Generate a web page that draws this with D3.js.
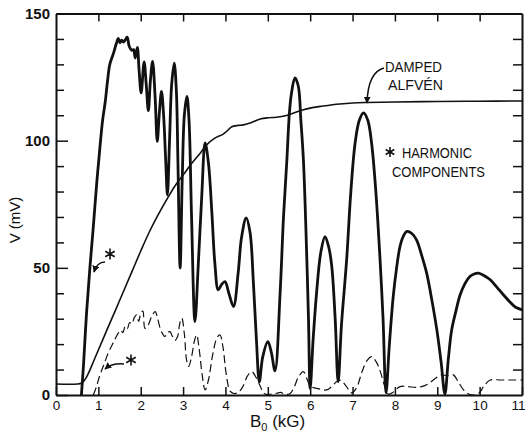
<!DOCTYPE html>
<html>
<head>
<meta charset="utf-8">
<script src="https://cdn.jsdelivr.net/npm/d3@7"></script>
<style>
  body { margin: 0; background: #fff; }
  text { font-family: "Liberation Sans", Arial, sans-serif; fill: #111; }
</style>
</head>
<body>
<svg id="chart" width="526" height="440"></svg>
<script>
// tick values
const xTicks = [0, 1, 2, 3, 4, 5, 6, 7, 8, 9, 10, 11]
const yLabels = [0, 50, 100, 150]
const yMinor = [10, 20, 30, 40, 60, 70, 80, 90, 110, 120, 130, 140]

// measured signal V (mV) vs B0 (kG), thick curve
const signalB = [0.60, 0.65, 0.72, 0.80, 0.88, 0.96, 1.04, 1.10, 1.16, 1.22, 1.27, 1.35, 1.43, 1.47, 1.51, 1.55, 1.59, 1.63, 1.68, 1.73, 1.79, 1.83, 1.87, 1.92, 1.96,
  2.01, 2.08, 2.13, 2.18, 2.23, 2.28, 2.34, 2.39, 2.44, 2.49, 2.54, 2.59, 2.63, 2.68, 2.73, 2.79, 2.84, 2.88, 2.93, 2.98,
  3.03, 3.09, 3.14, 3.20, 3.28, 3.36, 3.44, 3.52, 3.60, 3.68, 3.75, 3.83, 3.91, 3.99, 4.08, 4.19, 4.30, 4.38, 4.49, 4.58,
  4.66, 4.73, 4.80, 4.88, 5.00, 5.08, 5.17, 5.29, 5.37, 5.45, 5.51, 5.56, 5.64, 5.72, 5.78, 5.84, 5.90, 5.96, 6.00, 6.07,
  6.15, 6.25, 6.35, 6.44, 6.51, 6.59, 6.66, 6.74, 6.86, 6.96, 7.06, 7.16, 7.26, 7.36, 7.45, 7.55, 7.65, 7.72, 7.79, 7.87,
  7.96, 8.04, 8.12, 8.20, 8.28, 8.40, 8.51, 8.63, 8.75, 8.87, 8.99, 9.09, 9.18, 9.26, 9.34, 9.44, 9.54, 9.66, 9.77, 9.87,
  9.97, 10.10, 10.25, 10.40, 10.56, 10.72, 10.85, 11.00]
const signalV = [0, 12, 32, 50, 66, 83, 98, 108, 115, 124, 130, 134, 138.5, 140.2, 138.5, 139.5, 138.8, 139.5, 140.7, 137, 135.5, 135.8, 132.5, 136.7, 128,
  118.8, 131, 122, 111.8, 124, 131.2, 117, 99.7, 111, 119.4, 110, 92, 78.7, 100, 122, 130.5, 120, 90, 49.9, 85,
  110, 117.4, 108, 70, 28.9, 51.8, 78, 99.1, 91, 71.5, 51.8, 41.3, 43.5, 44.6, 40, 34.8, 48, 62, 69.6, 64,
  44, 22, 5.2, 15, 21, 17, 9.5, 40, 70, 92.5, 111, 118.8, 124.7, 121.4, 108, 92.5, 65, 30, 2.6, 22,
  40, 56, 62.3, 58, 50.5, 30, 5.2, 28, 53, 80, 99, 108, 110.9, 108, 99, 80, 53, 30, 0.8, 20,
  38.7, 50, 58.4, 62.5, 64.3, 63.5, 61, 55, 47.9, 37.5, 25.6, 13, 0.4, 14, 25.6, 33, 39.4, 44, 46.6, 47.6,
  47.9, 47, 45.3, 42.5, 39.4, 36.5, 34.5, 33.5]

// damped Alfven curve
const alfvenB = [0, 0.5, 0.6, 0.66, 0.72, 0.8, 0.87, 1.0, 1.2, 1.4, 1.6, 1.8, 2.0, 2.2, 2.4, 2.62, 2.8, 3.0, 3.2, 3.4, 3.56, 3.75, 3.94, 4.05, 4.15,
  4.3, 4.42, 4.6, 4.82, 5.0, 5.2, 5.36, 5.55, 5.8, 6.05, 6.3, 6.7, 7.0, 7.34, 8, 9, 10, 11]
const alfvenV = [4.3, 4.3, 4.6, 5.5, 7, 9.8, 12.6, 17.7, 25.5, 33.2, 41, 48.8, 56.6, 64, 70.5, 77, 82, 86.5, 91, 95, 98.4, 101, 102.5, 104, 105.5,
  106, 106.2, 107, 108.5, 109, 109.2, 109.6, 110.5, 112, 113, 113.6, 114.4, 114.8, 115, 115.2, 115.4, 115.5, 115.6]

// harmonic components, dashed
const harmonicB = [0.88, 0.95, 1.03, 1.12, 1.23, 1.35, 1.47, 1.53, 1.58, 1.63, 1.68, 1.74, 1.79, 1.85, 1.90, 1.95, 2.00, 2.05, 2.10, 2.18, 2.26, 2.34, 2.40, 2.46, 2.52,
  2.57, 2.63, 2.69, 2.75, 2.81, 2.87, 2.92, 2.97, 3.03, 3.08, 3.13, 3.20, 3.27, 3.32, 3.38, 3.45, 3.52, 3.60, 3.70, 3.80,
  3.87, 3.94, 4.02, 4.11, 4.20, 4.30, 4.40, 4.52, 4.62, 4.72, 4.82, 4.92, 5.05, 5.21, 5.30, 5.40, 5.52, 5.62, 5.72, 5.84,
  5.92, 6.00, 6.10, 6.25, 6.39, 6.52, 6.62, 6.72, 6.85, 6.98, 7.10, 7.22, 7.34, 7.45, 7.56, 7.66, 7.75, 7.85, 7.95, 8.12,
  8.30, 8.50, 8.63, 8.80, 8.95, 9.10, 9.22, 9.38, 9.50, 9.62, 9.75, 9.88, 10.00, 10.10, 10.25, 10.50, 10.75, 11.00]
const harmonicV = [0, 3, 7.5, 11.5, 16.4, 20.5, 24.3, 25.5, 24.5, 26.9, 26, 28.5, 28, 30.5, 31.5, 29, 32, 33, 26.2, 27.6, 31, 32.8, 30, 26.2, 24,
  23, 24.5, 24.9, 23, 21.5, 23, 28, 30.2, 24, 14, 11.2, 15, 21.5, 23.6, 18, 8, 2, 6, 16, 22.5,
  23.6, 19, 8, 1.5, 0.6, 1, 3, 7.5, 9.2, 7, 3.5, 0.5, 0.3, 0.7, 1.0, 0.3, 0.5, 3, 7, 9.2,
  6.5, 3.5, 2.8, 2.3, 2, 3.5, 5.2, 5.8, 3.5, 0.8, 3, 9, 13.5, 15.1, 13, 9, 4, 0.3, 1, 3.3,
  3.3, 3, 3.3, 4.5, 6.5, 7.9, 7.6, 7.9, 5, 2, 0.3, 0, 1, 3.5, 5.9, 5.9, 5.9, 5.9]

const svg = d3.select("#chart")
const plotLeft = 56, plotRight = 522, plotTop = 13.5, plotBottom = 395

const x = d3.scaleLinear().domain([0, 11]).range([plotLeft, plotRight])
const y = d3.scaleLinear().domain([0, 150]).range([plotBottom, plotTop])

const defs = svg.append("defs")
defs.append("clipPath").attr("id", "plotClip")
  .append("rect").attr("x", plotLeft).attr("y", plotTop)
  .attr("width", plotRight - plotLeft).attr("height", plotBottom - plotTop)

defs.append("marker")
  .attr("id", "arrowHead")
  .attr("viewBox", "0 0 10 10")
  .attr("refX", 9).attr("refY", 5)
  .attr("markerWidth", 7).attr("markerHeight", 7)
  .attr("markerUnits", "userSpaceOnUse")
  .attr("orient", "auto")
  .append("path").attr("d", "M0,0 L10,5 L0,10 z").attr("fill", "#111")

// axes
const axisStyle = g => {
  g.select(".domain").attr("stroke", "#111").attr("stroke-width", 2)
  g.selectAll(".tick line").attr("stroke", "#111").attr("stroke-width", 1.5)
  g.selectAll(".tick text").style("font-size", "14px").attr("fill", "#111")
}

svg.append("g").attr("transform", "translate(0," + plotBottom + ")")
  .call(d3.axisBottom(x).tickValues(xTicks).tickSizeInner(-8).tickSizeOuter(0).tickPadding(5).tickFormat(d3.format("d")))
  .call(axisStyle)
  .call(g => g.selectAll(".tick text").style("font-size", "13.5px")
    .attr("dx", d => d == 11 ? -4 : 0))

svg.append("g").attr("transform", "translate(0," + plotTop + ")")
  .call(d3.axisTop(x).tickValues(xTicks.slice(1, -1)).tickSizeInner(-8).tickSizeOuter(0).tickFormat(""))
  .call(axisStyle)

svg.append("g").attr("transform", "translate(" + plotLeft + ",0)")
  .call(d3.axisLeft(y).tickValues(yLabels).tickSizeInner(-12).tickSizeOuter(0).tickPadding(6).tickFormat(d3.format("d")))
  .call(axisStyle)
  .call(g => g.selectAll(".tick text").style("font-size", "15px").style("font-weight", "bold"))

svg.append("g").attr("transform", "translate(" + plotLeft + ",0)")
  .call(d3.axisLeft(y).tickValues(yMinor).tickSizeInner(-8).tickSizeOuter(0).tickFormat(""))
  .call(axisStyle)
  .call(g => g.select(".domain").remove())

svg.append("g").attr("transform", "translate(" + plotRight + ",0)")
  .call(d3.axisRight(y).tickValues(yMinor.concat([50, 100])).tickSizeInner(-9).tickSizeOuter(0).tickFormat(""))
  .call(axisStyle)

// curves
const line = d3.line()
  .x(d => x(d[0]))
  .y(d => y(d[1]))
  .curve(d3.curveCatmullRom.alpha(0.5))

const plot = svg.append("g").attr("clip-path", "url(#plotClip)")

plot.append("path")
  .datum(d3.zip(alfvenB, alfvenV))
  .attr("d", line)
  .attr("fill", "none").attr("stroke", "#111").attr("stroke-width", 1.6)

plot.append("path")
  .datum(d3.zip(harmonicB, harmonicV))
  .attr("d", line)
  .attr("fill", "none").attr("stroke", "#111").attr("stroke-width", 1.2)
  .attr("stroke-dasharray", "8,4")

plot.append("path")
  .datum(d3.zip(signalB, signalV))
  .attr("d", line)
  .attr("fill", "none").attr("stroke", "#111").attr("stroke-width", 2.8)
  .attr("stroke-linejoin", "round")

// asterisk symbol
function asterisk(cx, cy, r) {
  let p = d3.path()
  for (let a of [90, 30, 150]) {
    let t = a * Math.PI / 180
    p.moveTo(cx - r * Math.cos(t), cy - r * Math.sin(t))
    p.lineTo(cx + r * Math.cos(t), cy + r * Math.sin(t))
  }
  svg.append("path").attr("d", p.toString())
    .attr("stroke", "#111").attr("stroke-width", 1.6).attr("fill", "none")
}

asterisk(110, 254, 5.5)
asterisk(131, 360, 5.5)
asterisk(390, 152, 5)

// arrows
const arrows = [
  "M105,262 Q97,262 94,272",
  "M124,364 Q112,363 105,369",
  "M384,68 Q368,72 367,103"
]
svg.selectAll(".arrow").data(arrows).enter().append("path")
  .attr("class", "arrow")
  .attr("d", d => d)
  .attr("fill", "none").attr("stroke", "#111").attr("stroke-width", 1.5)
  .attr("marker-end", "url(#arrowHead)")

// annotations
const notes = [
  {t: "DAMPED", x: 385, y: 72, w: 57},
  {t: "ALFVÉN", x: 388, y: 90, w: 55},
  {t: "HARMONIC", x: 402, y: 158, w: 70},
  {t: "COMPONENTS", x: 392, y: 177, w: 93}
]
svg.selectAll(".note").data(notes).enter().append("text")
  .attr("class", "note")
  .attr("x", d => d.x).attr("y", d => d.y)
  .attr("textLength", d => d.w).attr("lengthAdjust", "spacingAndGlyphs")
  .style("font-size", "15px")
  .text(d => d.t)

// axis titles
svg.append("text")
  .attr("transform", "translate(20,220) rotate(-90)")
  .attr("text-anchor", "middle")
  .style("font-size", "15px")
  .text("V (mV)")

let xt = svg.append("text").attr("x", 250).attr("y", 427).style("font-size", "17px")
xt.append("tspan").text("B")
xt.append("tspan").attr("dy", 4).style("font-size", "11px").text("0")
xt.append("tspan").attr("dy", -4).text(" (kG)")
</script>
</body>
</html>
